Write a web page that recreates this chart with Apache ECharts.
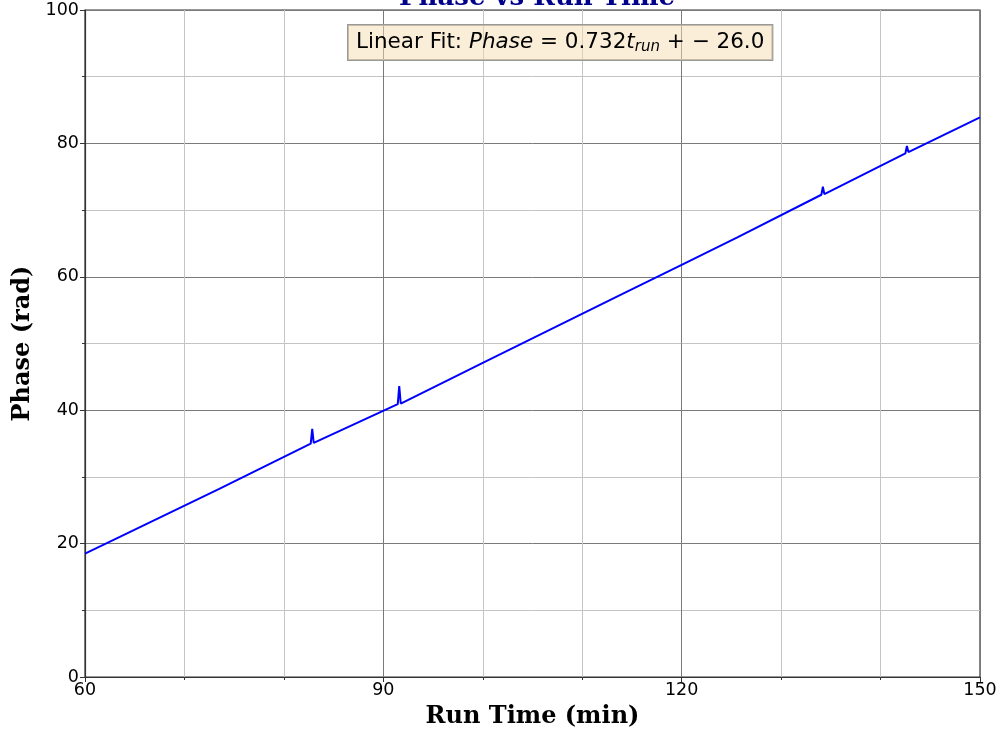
<!DOCTYPE html>
<html>
<head>
<meta charset="utf-8">
<script src="https://cdn.jsdelivr.net/npm/echarts@6/dist/echarts.min.js"></script>
<style>html,body{margin:0;padding:0;background:#fff}#c{width:1002px;height:730px}</style>
</head>
<body>
<div id="c"></div>
<script>
// Run time (min) and phase (rad)
var runTime = [60, 63.5, 66.0, 73.5, 82.7, 82.85, 83.0, 91.45, 91.6, 91.75, 100, 114, 120, 125.6, 125.8, 134.05, 134.2, 134.35, 142.5, 142.65, 142.8, 150];
var phase   = [18.5, 21.0, 22.8, 28.2, 35.0, 37.2, 35.1, 40.9, 43.6, 41.0, 47.1, 57.4, 61.8, 65.9, 66.1, 72.3, 73.5, 72.4, 78.5, 79.6, 78.7, 83.9];
var xTicks = [60, 90, 120, 150];
var yTicks = [0, 20, 40, 60, 80, 100];

var chart = echarts.init(document.getElementById('c'), null, {renderer: 'canvas'});
var data = runTime.map(function (t, i) { return [t, phase[i]]; });
var tickFont = {color: '#000', fontFamily: 'DejaVu Sans', fontSize: 17.5};
var titleFont = {fontFamily: 'DejaVu Serif', fontWeight: 'bold', fontSize: 24, color: '#000'};

chart.setOption({
  animation: false,
  backgroundColor: '#fff',
  title: {
    text: 'Phase vs Run Time',
    left: 532, top: -20, textAlign: 'center',
    textStyle: {fontFamily: 'DejaVu Serif', fontWeight: 'bold', fontSize: 26, color: '#00008b'}
  },
  grid: {left: 85, right: 22, top: 10, bottom: 53, show: true, borderColor: '#333', borderWidth: 1.2, backgroundColor: 'transparent', outerBoundsMode: 'none', containLabel: false},
  xAxis: {
    type: 'value', min: xTicks[0], max: xTicks[xTicks.length - 1], interval: 30,
    name: 'Run Time (min)', nameLocation: 'middle', nameGap: 28, nameTextStyle: titleFont,
    axisLine: {show: true, onZero: false, lineStyle: {color: '#333', width: 1.2}},
    axisTick: {show: true, inside: false, length: 5, lineStyle: {color: '#333'}},
    minorTick: {show: true, splitNumber: 3, length: 3, lineStyle: {color: '#333'}},
    axisLabel: Object.assign({margin: 4}, tickFont),
    splitLine: {show: true, lineStyle: {color: '#7a7a7a', width: 1}},
    minorSplitLine: {show: true, lineStyle: {color: '#c4c4c4', width: 1}}
  },
  yAxis: {
    type: 'value', min: yTicks[0], max: yTicks[yTicks.length - 1], interval: 20,
    name: 'Phase (rad)', nameLocation: 'middle', nameGap: 45, nameRotate: 90, nameTextStyle: titleFont,
    axisLine: {show: true, onZero: false, lineStyle: {color: '#333', width: 1.2}},
    axisTick: {show: true, inside: false, length: 5, lineStyle: {color: '#333'}},
    minorTick: {show: true, splitNumber: 2, length: 3, lineStyle: {color: '#333'}},
    axisLabel: Object.assign({margin: 6}, tickFont),
    splitLine: {show: true, lineStyle: {color: '#7a7a7a', width: 1}},
    minorSplitLine: {show: true, lineStyle: {color: '#c4c4c4', width: 1}}
  },
  series: [{
    type: 'line', data: data, showSymbol: false, symbol: 'none',
    lineStyle: {color: '#0000ff', width: 2}, z: 5
  }],
  graphic: [{
    type: 'text', left: 347, top: 24, z: 100,
    style: {
      text: '{n|Linear Fit: }{i|Phase}{n| = 0.732}{i|t}{s|run}{n| + − 26.0}',
      backgroundColor: 'rgba(245,222,179,0.5)', borderColor: '#999', borderWidth: 1,
      padding: [5, 8, 5, 8],
      rich: {
        n: {fontFamily: 'DejaVu Sans', fontSize: 21.5, color: '#000'},
        i: {fontFamily: 'DejaVu Sans', fontStyle: 'italic', fontSize: 21.5, color: '#000'},
        s: {fontFamily: 'DejaVu Sans', fontStyle: 'italic', fontSize: 15, color: '#000', verticalAlign: 'bottom', padding: [10, 0, 0, 0]}
      }
    }
  }]
});
</script>
</body>
</html>
